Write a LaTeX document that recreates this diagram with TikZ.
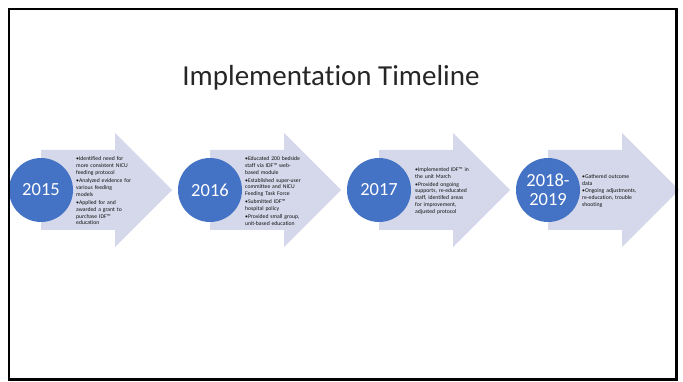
\documentclass[tikz,border=0pt]{standalone}
\usepackage{fontspec}
\setmainfont{Carlito}[Ligatures=NoCommon]
\definecolor{arrowfill}{HTML}{D5D8EA}
\definecolor{yearblue}{HTML}{4472C4}
\definecolor{notegray}{HTML}{111111}
\newcommand{\bul}[1]{\par\hangindent=2.8pt\hangafter=1\noindent\makebox[2.8pt][l]{\textbullet}#1\par\vspace{1pt}}
\def\timearrow(#1){\fill[arrowfill] (#1, 150) -- (#1+74, 150) -- (#1+74, 133) -- (#1+131, 190) -- (#1+74, 247) -- (#1+74, 230) -- (#1, 230) -- cycle;}
\tikzset{
  yearball/.style={circle, fill=yearblue, minimum size=64pt, inner sep=0pt, text=white, font=\fontsize{18.5}{19}\selectfont, align=center},
  notes/.style={anchor=west, text width=64pt, inner sep=0pt, align=left, text=notegray, font=\fontsize{5.7}{6.9}\selectfont}
}

\begin{document}
\begin{tikzpicture}[x=1pt, y=-1pt]
			%%%%% START %%%%%
			\useasboundingbox (0, 0) rectangle (683, 382);
			\fill[white] (0, 0) rectangle (683, 382);
			
			\node[font=\fontsize{29}{32}\selectfont, text=black!85] (title) at (331, 78) {Implementation Timeline};
			
			\timearrow(41)
			\timearrow(210)
			\timearrow(379)
			\timearrow(548)
			
			\node[yearball] (y2015) at (41, 190) {2015};
			\node[yearball] (y2016) at (210, 190) {2016};
			\node[yearball] (y2017) at (379, 190) {2017};
			\node[yearball] (y2018) at (548, 190) {2018-\\2019};
			
			\node[notes] (n2015) at (76, 190) {%
				\bul{Identified need for\\more consistent NICU\\feeding protocol}%
				\bul{Analyzed evidence for\\various feeding\\models}%
				\bul{Applied for and\\awarded a grant to\\purchase IDF™\\education}};
			\node[notes] (n2016) at (245, 190) {%
				\bul{Educated 200 bedside\\staff via IDF™ web-\\based module}%
				\bul{Established super-user\\committee and NICU\\Feeding Task Force}%
				\bul{Submitted IDF™\\hospital policy}%
				\bul{Provided small group,\\unit-based education}};
			\node[notes] (n2017) at (415, 190) {%
				\bul{Implemented IDF™ in\\the unit March}%
				\bul{Provided ongoing\\supports, re-educated\\staff, identifed areas\\for improvement,\\adjusted protocol}};
			\node[notes] (n2018) at (582, 190) {%
				\bul{Gathered outcome\\data}%
				\bul{Ongoing adjustments,\\re-education, trouble\\shooting}};
			
			\draw[line width=2.4pt] (9, 9) rectangle (676.5, 379.5);
			%%%%% END %%%%%
\end{tikzpicture}
\end{document}
